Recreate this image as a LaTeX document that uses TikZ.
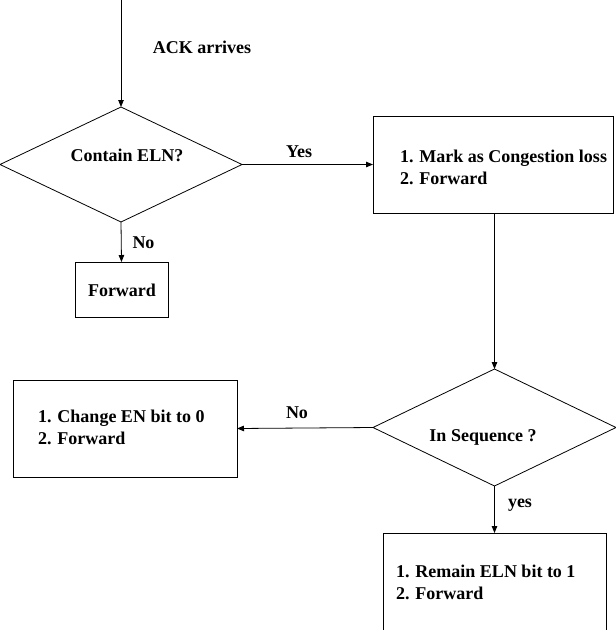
\documentclass[tikz,border=0pt]{standalone}
\usepackage{fontspec}
\setmainfont{Liberation Serif}
\usetikzlibrary{shapes.geometric,arrows.meta}
\begin{document}
\begin{tikzpicture}[x=1pt,y=-1pt,
  line width=0.8pt,
  every node/.style={inner sep=0pt, outer sep=0pt},
  boxnode/.style={draw, rectangle},
  dianode/.style={draw, diamond},
  lbl/.style={font=\fontsize{18}{22}\selectfont\bfseries},
  multi/.style={lbl, align=left, anchor=west},
  arr/.style={-{Triangle[length=7pt,width=5.5pt]}}]
\clip (0,0) rectangle (616,630);
\fill[white] (0,0) rectangle (616,630);
% shapes
\node[dianode, minimum width=242pt, minimum height=115pt] (d1) at (121,164.5) {};
\node[boxnode, minimum width=240pt, minimum height=97pt] (b1) at (493,164.5) {};
\node[boxnode, minimum width=93pt, minimum height=55pt] (fw) at (121.5,289.5) {};
\node[dianode, minimum width=243pt, minimum height=117pt] (d2) at (494.5,427.5) {};
\node[boxnode, minimum width=224pt, minimum height=97pt] (b2) at (125,428.5) {};
\node[boxnode, minimum width=223pt, minimum height=127pt] (b3) at (494.5,596.5) {};
% texts
\node[lbl] (tack) at (202,47) {ACK arrives};
\node[lbl] (td1) at (127,155) {Contain ELN?};
\node[lbl] (td2) at (483,437) {In Sequence ?};
\node[lbl] (tfw) at (122,290) {Forward};
\node[multi] (tb1) at (400,167) {1. Mark as Congestion loss\\2. Forward};
\node[multi] (tb2) at (38,427.5) {1. Change EN bit to 0\\2. Forward};
\node[multi] (tb3) at (396,582.5) {1. Remain ELN bit to 1\\2. Forward};
\node[lbl] (lyes) at (299,152) {Yes};
\node[lbl] (lno1) at (143.5,243) {No};
\node[lbl] (lno2) at (297,413) {No};
\node[lbl] (lyes2) at (520,505) {yes};
% connectors
\coordinate (start) at (121,0);
\draw[arr] (start) -- (d1.north);
\draw[arr] (d1.east) -- (b1.west);
\draw[arr] (d1.south) -- (fw.north);
\draw[arr] (b1.south -| d2.north) -- (d2.north);
\draw[arr] (d2.west) -- (b2.east);
\draw[arr] (d2.south) -- (b3.north);
\end{tikzpicture}
\end{document}
